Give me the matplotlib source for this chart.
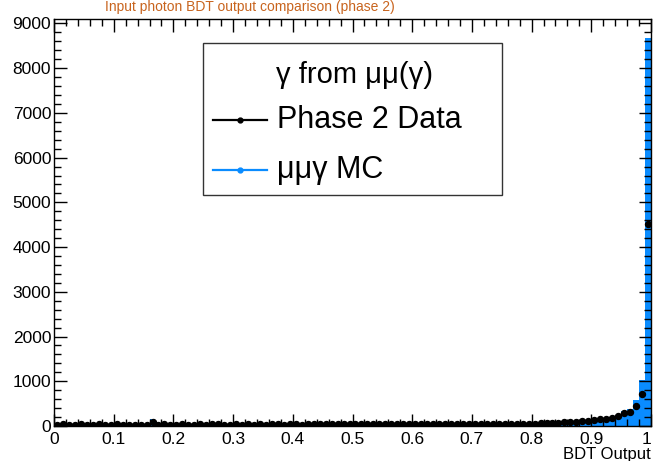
import numpy as np
import matplotlib
matplotlib.use("Agg")
import matplotlib.pyplot as plt
from matplotlib.patches import Rectangle
from matplotlib.lines import Line2D
from matplotlib.ticker import MultipleLocator

plt.rcParams['font.family'] = ['Liberation Sans', 'DejaVu Sans']

# 100 bins of BDT output, 0 to 1
edges = np.linspace(0, 1, 101)

data_counts = [
    28, 35, 30, 26, 38, 32, 29, 34, 27, 31, 36, 30, 25, 33, 29, 31,
    85, 30, 34, 28, 33, 36, 30, 32, 35, 29, 34, 38, 31, 33,
    36, 32, 35, 30, 37, 33, 36, 34, 31, 38, 35, 33, 37, 36, 39, 34,
    38, 36, 35, 40, 38, 42, 37, 40, 39, 43, 38, 41, 44, 40,
    42, 39, 45, 41, 43, 46, 40, 44, 47, 43, 45, 48, 44, 47,
    50, 46, 49, 52, 48, 51, 54, 58, 62, 66, 72, 82, 90, 97,
    110, 119, 134, 150, 164, 186, 224, 280, 320, 450, 720, 4520,
]

mc_counts = [
    22, 25, 24, 21, 27, 25, 23, 26, 22, 24, 27, 24, 21, 25, 23, 24,
    150, 24, 26, 23, 25, 27, 24, 25, 26, 23, 26, 28, 24, 25,
    27, 25, 26, 24, 28, 25, 27, 26, 24, 28, 27, 25, 28, 27, 29, 26,
    28, 27, 27, 30, 29, 31, 28, 30, 30, 32, 29, 31, 33, 31,
    32, 30, 34, 32, 33, 35, 31, 34, 36, 33, 35, 37, 34, 36,
    39, 36, 38, 41, 40, 43, 47, 52, 58, 64, 72, 84, 92, 100,
    112, 122, 136, 152, 168, 192, 232, 330, 380, 580, 1020, 8680,
]

title = "Input photon BDT output comparison (phase 2)"
blue = "#0a8cff"

centers = 0.5 * (edges[:-1] + edges[1:])
data = np.array(data_counts, dtype=float)
mc = np.array(mc_counts, dtype=float)

fig = plt.figure(figsize=(6.54, 4.61), dpi=100)
ax = fig.add_axes([54 / 654, 35 / 461, 597 / 654, 407 / 461])

ax.stairs(mc, edges, fill=True, color=blue, linewidth=0)
ax.errorbar(centers, data, xerr=0.005, yerr=np.sqrt(data), fmt='o', ms=4.3,
            color='black', elinewidth=1, capsize=0)

ax.set_xlim(0, 1)
ax.set_ylim(0, 9100)
ax.xaxis.set_minor_locator(MultipleLocator(0.02))
ax.yaxis.set_major_locator(MultipleLocator(1000))
ax.yaxis.set_minor_locator(MultipleLocator(200))
ax.set_xticks(np.arange(0, 1.01, 0.1))
ax.set_xticklabels(["0", "0.1", "0.2", "0.3", "0.4", "0.5", "0.6", "0.7", "0.8", "0.9", "1"])
ax.tick_params(which='both', direction='in', top=True, right=True, labelsize=12.5)
ax.tick_params(axis='x', pad=4.5)
ax.tick_params(axis='y', pad=2)
ax.tick_params(which='major', length=9, width=1)
ax.tick_params(which='minor', length=5, width=1)
ax.get_xticklabels()[-1].set_horizontalalignment('right')
for s in ax.spines.values():
    s.set_linewidth(1)

ax.set_xlabel("BDT Output", fontsize=12, loc='right', labelpad=0)

# legend box
ax.add_patch(Rectangle((0.2496, 0.5676), 0.5005, 0.3734, transform=ax.transAxes,
                       facecolor='white', edgecolor='#333333', linewidth=1, zorder=5))
ax.text(0.503, 0.862, "γ from μμ(γ)", transform=ax.transAxes, fontsize=21,
        ha='center', va='center', zorder=6)
rows = [("Phase 2 Data", 'black', 0.752), ("μμγ MC", blue, 0.629)]
for label, col, yy in rows:
    ax.add_line(Line2D([0.266, 0.357], [yy, yy], transform=ax.transAxes, color=col,
                       lw=1.6, zorder=6))
    ax.plot([0.3115], [yy], 'o', ms=3.5, color=col, transform=ax.transAxes, zorder=7)
    ax.text(0.3735, yy, label, transform=ax.transAxes, fontsize=22,
            ha='left', va='center', zorder=6)

fig.text(0.16, 0.999, title, color='#c8641e', fontsize=10, ha='left', va='top')

fig.savefig("out.png", dpi=100)
